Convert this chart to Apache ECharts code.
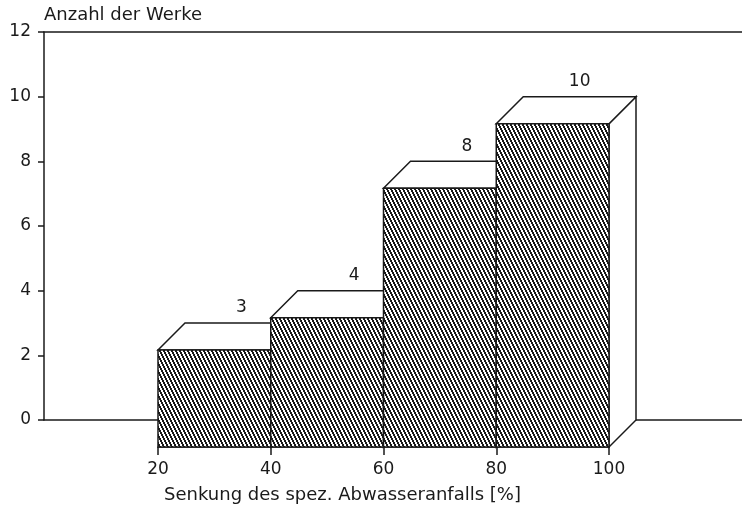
<!DOCTYPE html>
<html>
<head>
<meta charset="utf-8">
<script src="https://cdn.jsdelivr.net/npm/echarts@6/dist/echarts.min.js"></script>
<style>html,body{margin:0;padding:0;background:#fff}#chart{width:742px;height:513px}</style>
</head>
<body>
<div id="chart"></div>
<script>
// ---- data ----
const binStart = [20, 40, 60, 80];
const binEnd = [40, 60, 80, 100];
const counts = [3, 4, 8, 10];
const xTicks = [20, 40, 60, 80, 100];
const yTicks = [0, 2, 4, 6, 8, 10, 12];
const xName = 'Senkung des spez. Abwasseranfalls [%]';
const yName = 'Anzahl der Werke';

// ---- style ----
const INK = '#1a1a1a';
const FONT = 'DejaVu Sans';
const DEPTH = 27;

const pc = document.createElement('canvas');
pc.width = 4; pc.height = 8;
const pctx = pc.getContext('2d');
pctx.fillStyle = '#fff';
pctx.fillRect(0, 0, 4, 8);
pctx.fillStyle = INK;
for (let y = 0; y < 8; y++) {
  const x0 = Math.floor(y / 2);
  for (let k = 0; k < 2; k++) pctx.fillRect((x0 + k) % 4, y, 1, 1);
}
const hatch = { image: pc, repeat: 'repeat' };

const chart = echarts.init(document.getElementById('chart'), null, { renderer: 'canvas' });

const barData = binStart.map((s, i) => [s, binEnd[i], counts[i]]);

chart.setOption({
  animation: false,
  backgroundColor: '#fff',
  grid: [
    { left: 158, right: 133, top: 59, bottom: 66 },   // front plane
    { left: 44, right: 0, top: 32, bottom: 93 }       // back plane
  ],
  xAxis: [
    {
      gridIndex: 0, type: 'value', min: xTicks[0], max: xTicks[xTicks.length - 1],
      interval: xTicks[1] - xTicks[0],
      axisLine: { show: true, lineStyle: { color: INK, width: 1.5 } },
      axisTick: { show: true, length: 8, lineStyle: { color: INK, width: 1.5 } },
      axisLabel: { margin: 14, fontSize: 17, fontFamily: FONT, color: INK },
      splitLine: { show: false },
      name: xName, nameLocation: 'middle', nameGap: 39,
      nameTextStyle: { fontSize: 18, fontFamily: FONT, color: INK, padding: [0, 82, 0, 0] }
    },
    {
      gridIndex: 1, type: 'value', min: 0, max: 1, position: 'bottom',
      axisLine: { show: true, onZero: false, lineStyle: { color: INK, width: 1.5 } },
      axisTick: { show: false }, axisLabel: { show: false }, splitLine: { show: false }
    },
    {
      gridIndex: 1, type: 'value', min: 0, max: 1, position: 'top',
      axisLine: { show: true, onZero: false, lineStyle: { color: INK, width: 1.5 } },
      axisTick: { show: false }, axisLabel: { show: false }, splitLine: { show: false }
    }
  ],
  yAxis: [
    { gridIndex: 0, type: 'value', min: 0, max: 12, show: false },
    {
      gridIndex: 1, type: 'value', min: yTicks[0], max: yTicks[yTicks.length - 1],
      interval: yTicks[1] - yTicks[0],
      axisLine: { show: true, onZero: false, lineStyle: { color: INK, width: 1.5 } },
      axisTick: { show: true, length: 6, lineStyle: { color: INK, width: 1.5 } },
      axisLabel: { margin: 13, fontSize: 17, fontFamily: FONT, color: INK },
      splitLine: { show: false },
      name: yName, nameLocation: 'end', nameGap: 8,
      nameTextStyle: { fontSize: 18, fontFamily: FONT, color: INK, align: 'left' }
    }
  ],
  series: [{
    type: 'custom',
    xAxisIndex: 0, yAxisIndex: 0,
    data: barData,
    renderItem: function (params, api) {
      const s = api.value(0), e = api.value(1), v = api.value(2);
      const p0 = api.coord([s, 0]);
      const p1 = api.coord([e, v]);
      const x0 = p0[0], x1 = p1[0], yb = p0[1], yt = p1[1];
      const D = DEPTH;
      const line = { stroke: INK, lineWidth: 1.5 };
      return {
        type: 'group',
        children: [
          { type: 'polygon', shape: { points: [[x1, yt], [x1 + D, yt - D], [x1 + D, yb - D], [x1, yb]] },
            style: Object.assign({ fill: '#fff' }, line) },
          { type: 'polygon', shape: { points: [[x0, yt], [x0 + D, yt - D], [x1 + D, yt - D], [x1, yt]] },
            style: Object.assign({ fill: '#fff' }, line) },
          { type: 'rect', shape: { x: x0, y: yt, width: x1 - x0, height: yb - yt },
            style: Object.assign({ fill: hatch }, line) },
          { type: 'text', x: (x0 + x1) / 2 + D, y: yt - D - 15,
            style: { text: String(v), fill: INK, font: '17px "' + FONT + '"', align: 'center', verticalAlign: 'middle' } }
        ]
      };
    }
  }]
});
</script>
</body>
</html>
